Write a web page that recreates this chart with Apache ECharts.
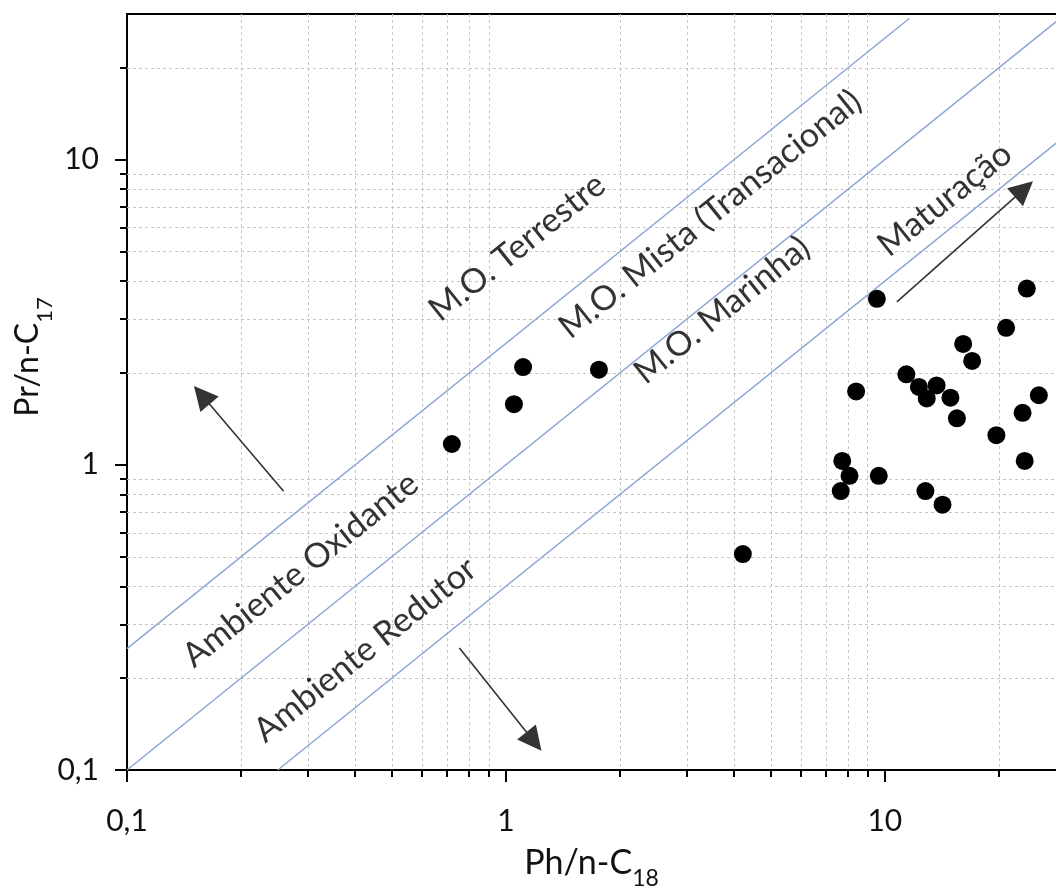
<!DOCTYPE html>
<html><head><meta charset="utf-8">
<script src="https://cdn.jsdelivr.net/npm/echarts@6/dist/echarts.min.js"></script>
<style>html,body{margin:0;padding:0;background:#fff}#c{width:1056px;height:890px}</style>
</head><body><div id="c"></div>
<script>
// ---- data ----
const xRange = [0.1, 28.3];
const yRange = [0.1, 30];
const majorTicks = [0.1, 1, 10];
const xMinorTicks = [0.2, 0.3, 0.4, 0.5, 0.6, 0.7, 0.8, 0.9, 2, 3, 4, 5, 6, 7, 8, 9, 20];
const yMinorTicks = [0.2, 0.3, 0.4, 0.5, 0.6, 0.7, 0.8, 0.9, 2, 3, 4, 5, 6, 7, 8, 9, 20];

const phC18 = [0.72, 1.05, 1.11, 1.76, 4.22, 9.53, 23.7, 20.9, 16.1, 17.0, 11.4, 12.3, 13.7, 12.9, 14.9, 8.40, 25.5, 23.1, 15.5, 19.7, 7.72, 8.07, 9.64, 7.65, 23.4, 12.8, 14.2];
const prC17 = [1.17, 1.58, 2.09, 2.05, 0.51, 3.50, 3.78, 2.81, 2.49, 2.19, 1.98, 1.80, 1.82, 1.65, 1.66, 1.74, 1.69, 1.48, 1.42, 1.25, 1.03, 0.92, 0.92, 0.82, 1.03, 0.82, 0.74];

const lineTerrestre = [[0.1, 0.25], [11.6, 29]];
const lineMista = [[0.1, 0.1], [30, 30]];
const lineMarinha = [[0.25, 0.1], [75, 30]];

const arrowOxidante = [[0.259, 0.819], [0.1575, 1.692]];
const arrowRedutor = [[0.754, 0.251], [1.186, 0.124]];
const arrowMaturacao = [[10.76, 3.42], [23.3, 8.0]];

const labelNames = ['M.O. Terrestre', 'M.O. Mista (Transacional)', 'M.O. Marinha)', 'Maturação', 'Ambiente Oxidante', 'Ambiente Redutor'];
const labelX = [1.071, 3.46, 3.72, 14.4, 0.287, 0.4254];
const labelY = [5.16, 6.62, 3.21, 7.41, 0.453, 0.2476];

const xTitle = '{a|Ph/n-C}{s|18}';
const yTitle = '{a|Pr/n-C}{s|17}';

// ---- chart ----
const FONT = 'Lato';
const chart = echarts.init(document.getElementById('c'), null, {renderer: 'canvas'});
const fmt = v => String(+(+v).toPrecision(6)).replace('.', ',');
const richFor = (big, small, lh) => ({
  a: {fontSize: big, fontFamily: FONT, color: '#111', lineHeight: lh, verticalAlign: 'top'},
  s: {fontSize: small, fontFamily: FONT, color: '#111', lineHeight: lh, verticalAlign: 'bottom'}
});
const baseAxis = (pos) => ({
  type: 'log', logBase: 10, position: pos,
  splitLine: {show: false}, minorTick: {show: false}
});

const option = {
  animation: false,
  backgroundColor: '#fff',
  grid: {left: 127, right: 0, top: 14, bottom: 120, containLabel: false, outerBoundsMode: 'none'},
  xAxis: [
    Object.assign(baseAxis('bottom'), {
      min: xRange[0], max: xRange[1],
      axisLine: {lineStyle: {color: '#000', width: 2}},
      axisTick: {show: true, length: 12, inside: false, customValues: majorTicks, lineStyle: {color: '#000', width: 2}},
      axisLabel: {customValues: majorTicks, formatter: fmt, fontSize: 30, fontFamily: FONT, color: '#111', margin: 36},
      name: xTitle, nameLocation: 'middle', nameGap: 76, nameMoveOverlap: false,
      nameTextStyle: {rich: richFor(34, 23, 44)}
    }),
    Object.assign(baseAxis('bottom'), {
      min: xRange[0], max: xRange[1],
      axisLine: {show: false},
      axisTick: {show: true, length: 7, inside: false, customValues: xMinorTicks, lineStyle: {color: '#000', width: 2}},
      axisLabel: {show: false}
    }),
    Object.assign(baseAxis('top'), {
      min: xRange[0], max: xRange[1],
      axisLine: {show: true, lineStyle: {color: '#000', width: 2}},
      axisTick: {show: false}, axisLabel: {show: false}
    })
  ],
  yAxis: [
    Object.assign(baseAxis('left'), {
      min: yRange[0], max: yRange[1],
      axisLine: {lineStyle: {color: '#000', width: 2}},
      axisTick: {show: true, length: 12, inside: false, customValues: majorTicks, lineStyle: {color: '#000', width: 2}},
      axisLabel: {customValues: majorTicks, formatter: fmt, fontSize: 30, fontFamily: FONT, color: '#111', margin: 28},
      name: yTitle, nameLocation: 'middle', nameGap: 71, nameRotate: 90, nameMoveOverlap: false,
      nameTextStyle: {rich: richFor(32, 22, 44), padding: [0, 0, 0, 70]}
    }),
    Object.assign(baseAxis('left'), {
      min: yRange[0], max: yRange[1],
      axisLine: {show: false},
      axisTick: {show: true, length: 7, inside: false, customValues: yMinorTicks, lineStyle: {color: '#000', width: 2}},
      axisLabel: {show: false}
    })
  ],
  series: [
    {
      type: 'custom', silent: true, z: 1,
      data: xMinorTicks.map(v => [v, yRange[0]]),
      renderItem(params, api) {
        const p = api.coord([api.value(0), api.value(1)]);
        const cs = params.coordSys;
        const x = Math.round(p[0]) + 0.5;
        return {type: 'line', shape: {x1: x, y1: cs.y, x2: x, y2: cs.y + cs.height},
          style: {stroke: '#c6c6c6', lineWidth: 1, lineDash: [3, 3]}};
      }
    },
    {
      type: 'custom', silent: true, z: 1,
      data: yMinorTicks.map(v => [xRange[0], v]),
      renderItem(params, api) {
        const p = api.coord([api.value(0), api.value(1)]);
        const cs = params.coordSys;
        const y = Math.round(p[1]) + 0.5;
        return {type: 'line', shape: {x1: cs.x, y1: y, x2: cs.x + cs.width, y2: y},
          style: {stroke: '#c6c6c6', lineWidth: 1, lineDash: [3, 3]}};
      }
    },
    ...[lineTerrestre, lineMista, lineMarinha].map(d => ({
      type: 'line', data: d, symbol: 'none', silent: true, z: 2, clip: true,
      lineStyle: {color: '#8ea6d2', width: 1.5}
    })),
    {
      type: 'lines', coordinateSystem: 'cartesian2d', silent: true, z: 3,
      symbol: ['none', 'triangle'], symbolSize: 24,
      lineStyle: {color: '#333', width: 1.6, opacity: 1},
      itemStyle: {color: '#000'},
      data: [arrowOxidante, arrowRedutor, arrowMaturacao].map(c => ({coords: c}))
    },
    {
      type: 'scatter', silent: true, z: 4,
      symbolSize: 1, itemStyle: {color: 'rgba(0,0,0,0)'},
      data: labelNames.map((n, i) => ({name: n, value: [labelX[i], labelY[i]]})),
      label: {show: true, position: 'inside', formatter: '{b}', rotate: 38.6,
        fontSize: 34, fontFamily: FONT, color: '#000', textBorderWidth: 0},
      labelLayout: {hideOverlap: false}
    },
    {
      type: 'scatter', z: 5, symbol: 'circle', symbolSize: 18,
      itemStyle: {color: '#000', opacity: 1},
      data: phC18.map((x, i) => [x, prC17[i]])
    }
  ]
};
chart.setOption(option);
</script>
</body></html>
